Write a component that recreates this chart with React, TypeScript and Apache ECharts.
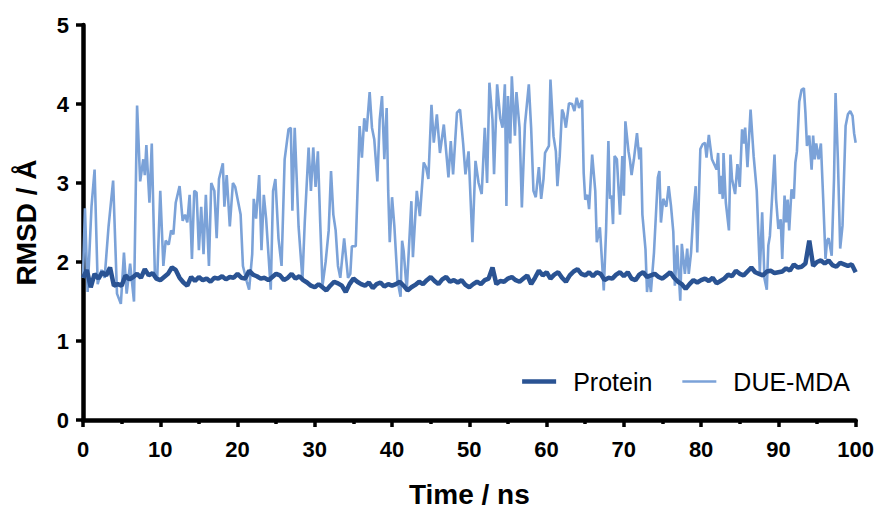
import React, { useEffect, useRef } from "react";
import * as echarts from "echarts";

// DUE-MDA RMSD (Å) — time (ns) / value pairs
const dueTime = [
  0.0, 0.25, 0.6, 1.1, 1.5, 1.9, 2.4, 2.8, 3.3, 3.9, 4.4, 4.9, 5.3, 5.65, 6.1, 6.6, 7.0, 7.4, 7.8, 8.0,
  8.2, 8.6, 8.9, 9.3, 9.6, 10.0, 10.4, 10.7, 11.1, 11.4, 11.7, 12.0, 12.5, 12.9, 13.2, 13.5, 13.8, 14.1, 14.4, 14.7,
  15.0, 15.3, 15.6, 15.9, 16.3, 16.6, 17.0, 17.3, 17.6, 18.1, 18.3, 18.6, 19.0, 19.4, 19.7, 20.0, 20.4, 20.7, 21.2, 21.5,
  21.9, 22.1, 22.4, 22.8, 23.1, 23.4, 23.7, 24.2, 24.3, 24.6, 24.9, 25.3, 25.7, 26.1, 26.6, 26.9, 27.1, 27.4, 27.9, 28.4,
  28.7, 29.2, 29.5, 29.8, 30.1, 30.4, 30.7, 31.0, 31.4, 31.8, 32.1, 32.4, 32.7, 33.0, 33.3, 33.8, 34.3, 34.6, 34.8, 35.3,
  35.8, 36.1, 36.4, 36.7, 37.1, 37.4, 37.7, 38.1, 38.4, 38.7, 39.0, 39.3, 39.5, 39.7, 40.0, 40.3, 40.7, 41.1, 41.3, 41.5,
  41.9, 42.5, 42.7, 43.2, 43.6, 44.1, 44.4, 44.7, 45.1, 45.4, 45.8, 46.2, 46.7, 47.3, 47.6, 47.9, 48.4, 48.8, 49.2, 49.5,
  49.9, 50.4, 50.8, 51.2, 51.6, 52.0, 52.3, 52.6, 53.0, 53.2, 53.6, 54.0, 54.3, 54.6, 54.8, 55.0, 55.3, 55.5, 55.9, 56.1,
  56.5, 56.8, 57.2, 57.7, 58.0, 58.3, 58.6, 59.0, 59.3, 59.6, 59.8, 60.3, 60.5, 60.9, 61.2, 61.4, 61.7, 62.0, 62.2, 62.5,
  62.9, 63.3, 63.6, 63.9, 64.2, 64.6, 64.8, 65.0, 65.3, 65.5, 65.9, 66.3, 66.5, 66.9, 67.4, 67.7, 68.0, 68.2, 68.4, 68.6,
  68.8, 69.1, 69.5, 69.8, 70.0, 70.2, 70.6, 70.8, 71.0, 71.3, 71.7, 72.0, 72.2, 72.4, 72.8, 73.0, 73.2, 73.5, 73.9, 74.4,
  74.6, 74.8, 75.1, 75.5, 75.8, 76.1, 76.4, 76.6, 76.9, 77.3, 77.5, 77.9, 78.2, 78.4, 78.7, 79.0, 79.3, 79.5, 79.9, 80.2,
  80.5, 80.7, 81.0, 81.4, 82.0, 82.2, 82.4, 82.6, 82.8, 82.9, 83.2, 83.6, 83.8, 84.0, 84.4, 84.7, 85.0, 85.3, 85.5, 85.7,
  86.0, 86.4, 86.8, 87.2, 87.6, 87.9, 88.2, 88.5, 88.7, 88.9, 89.5, 89.7, 90.0, 90.3, 90.5, 90.8, 91.0, 91.2, 91.4, 91.7,
  92.0, 92.2, 92.4, 92.7, 93.0, 93.3, 93.5, 93.7, 94.0, 94.3, 94.5, 94.7, 94.9, 95.2, 95.5, 95.8, 96.1, 96.3, 96.5, 96.9,
  97.2, 97.4, 97.7, 98.0, 98.3, 98.7, 99.0, 99.3, 99.6, 99.8, 100.0,
];
const dueRmsd = [
  1.80, 2.68, 1.62, 2.70, 3.17, 1.72, 1.90, 1.80, 2.44, 3.03, 1.60, 1.47, 2.12, 1.60, 1.98, 1.50, 3.98, 3.02, 3.30, 3.10,
  3.48, 2.75, 3.50, 1.85, 1.78, 2.90, 1.95, 2.27, 2.22, 2.40, 2.35, 2.75, 2.96, 2.52, 2.60, 2.50, 2.85, 2.04, 2.90, 2.88,
  2.15, 2.70, 2.10, 2.85, 1.95, 3.00, 2.90, 2.30, 3.05, 3.25, 2.70, 3.10, 2.45, 3.00, 2.95, 2.80, 2.60, 1.95, 1.75, 1.65,
  2.10, 2.80, 2.55, 3.10, 2.15, 2.85, 2.55, 1.80, 1.65, 2.90, 3.05, 2.30, 1.95, 3.30, 3.68, 3.70, 2.65, 3.70, 2.45, 1.78,
  2.50, 3.45, 2.90, 3.45, 2.95, 3.40, 2.50, 1.70, 2.00, 2.40, 3.15, 2.60, 2.40, 1.95, 1.80, 2.30, 1.80, 1.85, 2.20, 2.20,
  3.72, 3.32, 3.82, 3.65, 4.15, 3.70, 3.55, 3.02, 3.80, 4.10, 3.30, 3.95, 2.90, 2.25, 2.82, 2.45, 1.77, 1.56, 2.27, 2.14,
  1.64, 2.77, 2.06, 2.90, 2.58, 3.26, 3.20, 3.05, 3.99, 3.51, 3.87, 3.38, 3.74, 3.07, 3.53, 3.11, 3.89, 3.93, 3.50, 3.11,
  3.40, 2.25, 3.28, 3.00, 2.86, 3.70, 3.00, 4.27, 3.80, 3.11, 4.25, 3.82, 3.70, 4.25, 2.71, 4.10, 3.50, 4.35, 3.60, 4.15,
  3.70, 2.69, 3.74, 4.25, 3.70, 2.90, 2.82, 3.20, 2.80, 3.05, 3.38, 3.47, 4.31, 3.59, 3.40, 2.96, 3.34, 3.93, 3.88, 3.70,
  4.01, 4.00, 3.91, 4.08, 3.95, 4.05, 3.13, 2.79, 2.85, 2.67, 3.36, 2.90, 2.25, 2.44, 1.64, 2.40, 3.53, 2.80, 2.84, 2.48,
  3.34, 3.30, 2.60, 3.34, 2.84, 3.78, 3.40, 3.28, 3.10, 3.30, 3.63, 3.30, 3.45, 2.60, 2.16, 1.62, 1.85, 1.62, 2.12, 3.07,
  3.15, 2.50, 2.80, 2.70, 2.96, 2.71, 2.38, 1.70, 2.21, 1.51, 2.23, 1.85, 2.17, 1.85, 2.12, 2.63, 2.96, 2.12, 3.43, 3.49,
  3.51, 3.32, 3.61, 3.30, 3.17, 3.38, 2.86, 3.09, 2.80, 3.38, 2.75, 2.40, 3.36, 3.05, 2.86, 3.24, 2.95, 3.68, 3.50, 3.70,
  3.20, 3.93, 3.34, 2.90, 1.87, 2.63, 1.79, 1.65, 2.21, 2.33, 3.36, 2.80, 2.42, 2.54, 2.04, 2.84, 2.50, 2.79, 2.40, 2.92,
  2.80, 3.26, 3.40, 4.03, 4.18, 4.20, 3.89, 3.47, 3.60, 3.17, 3.60, 3.30, 3.50, 3.30, 3.50, 2.80, 2.04, 2.27, 2.30, 2.08,
  3.05, 4.14, 3.30, 2.17, 2.46, 3.72, 3.87, 3.91, 3.85, 3.63, 3.51,
];

// Protein RMSD (Å), one value every 0.5 ns from 0 to 100 ns
const proteinStep = 0.5;
const proteinRmsd = [
  1.80, 1.90, 1.68, 1.85, 1.79, 1.87, 1.83, 1.93, 1.70, 1.72, 1.70,
  1.83, 1.78, 1.81, 1.85, 1.80, 1.91, 1.83, 1.86, 1.79, 1.77,
  1.81, 1.85, 1.93, 1.90, 1.80, 1.74, 1.70, 1.81, 1.76, 1.81,
  1.77, 1.79, 1.75, 1.80, 1.79, 1.82, 1.78, 1.81, 1.80, 1.85,
  1.80, 1.79, 1.89, 1.84, 1.82, 1.79, 1.80, 1.77, 1.81, 1.85,
  1.83, 1.77, 1.80, 1.85, 1.79, 1.82, 1.77, 1.74, 1.70, 1.68,
  1.72, 1.68, 1.64, 1.70, 1.75, 1.73, 1.70, 1.62, 1.72, 1.79,
  1.75, 1.72, 1.70, 1.74, 1.67, 1.72, 1.74, 1.69, 1.72, 1.70,
  1.72, 1.75, 1.70, 1.64, 1.68, 1.71, 1.75, 1.72, 1.77, 1.81,
  1.76, 1.72, 1.78, 1.81, 1.75, 1.77, 1.74, 1.77, 1.71, 1.68,
  1.72, 1.75, 1.72, 1.77, 1.79, 1.93, 1.72, 1.76, 1.75, 1.79,
  1.81, 1.77, 1.75, 1.79, 1.83, 1.72, 1.80, 1.89, 1.83, 1.87,
  1.79, 1.84, 1.87, 1.80, 1.75, 1.83, 1.88, 1.91, 1.85, 1.83,
  1.87, 1.82, 1.87, 1.85, 1.77, 1.80, 1.79, 1.84, 1.87, 1.82,
  1.87, 1.79, 1.77, 1.84, 1.87, 1.81, 1.83, 1.85, 1.81, 1.79,
  1.83, 1.87, 1.80, 1.75, 1.72, 1.66, 1.72, 1.77, 1.74, 1.77,
  1.79, 1.76, 1.80, 1.73, 1.76, 1.79, 1.84, 1.82, 1.89, 1.85,
  1.83, 1.88, 1.93, 1.87, 1.85, 1.83, 1.88, 1.89, 1.86, 1.87,
  1.88, 1.92, 1.89, 1.97, 1.93, 1.94, 1.98, 2.27, 1.95, 2.00,
  2.02, 1.98, 2.02, 1.96, 1.94, 1.99, 1.97, 1.95, 1.97, 1.87,
];

const seriesNames = ["Protein", "DUE-MDA"];
const xTitle = "Time / ns";
const yTitle = "RMSD / Å";
const xMin = 0, xMax = 100, xStep = 10;
const yMin = 0, yMax = 5, yStep = 1;

const FONT = "'Liberation Sans', Arial, Helvetica, sans-serif";
const PROTEIN_COLOR = "#2a5393";
const DUE_COLOR = "#7ba2d8";

export default function App() {
  const ref = useRef<HTMLDivElement>(null);
  useEffect(() => {
    if (!ref.current) return;
    const chart = echarts.init(ref.current, null, { renderer: "svg" });
    const dueData = dueTime.map((t, i) => [t, dueRmsd[i]]);
    const protData = proteinRmsd.map((v, i) => [i * proteinStep, v]);
    chart.setOption({
      animation: false,
      backgroundColor: "#ffffff",
      grid: { left: 83, right: 21, top: 25, bottom: 91, containLabel: false },
      legend: {
        data: [
          { name: seriesNames[0], icon: "path://M0,0L68,0L68,9L0,9Z", itemStyle: { color: PROTEIN_COLOR } },
          { name: seriesNames[1], icon: "path://M0,0L68,0L68,5L0,5Z", itemStyle: { color: DUE_COLOR } },
        ],
        right: 22,
        top: 364,
        itemWidth: 34,
        itemHeight: 14,
        itemGap: 30,
        textStyle: { fontSize: 25, color: "#000", fontFamily: FONT, padding: [0, 0, 0, 12] },
      },
      xAxis: {
        type: "value",
        min: xMin,
        max: xMax,
        interval: xStep,
        name: xTitle,
        nameLocation: "middle",
        nameGap: 60,
        nameTextStyle: { fontSize: 28, fontWeight: "bold", color: "#000", fontFamily: FONT },
        axisLine: { show: true, onZero: false, lineStyle: { color: "#000", width: 4.5 } },
        axisTick: { show: true, length: 7, lineStyle: { color: "#000", width: 3.5 } },
        minorTick: { show: true, splitNumber: 2, length: 4, lineStyle: { color: "#000", width: 3.5 } },
        splitLine: { show: false },
        minorSplitLine: { show: false },
        axisLabel: { fontSize: 22, fontWeight: "bold", color: "#000", fontFamily: FONT, margin: 18 },
      },
      yAxis: {
        type: "value",
        min: yMin,
        max: yMax,
        interval: yStep,
        name: yTitle,
        nameLocation: "middle",
        nameGap: 43,
        nameRotate: 90,
        nameTextStyle: { fontSize: 28, fontWeight: "bold", color: "#000", fontFamily: FONT },
        axisLine: { show: true, onZero: false, lineStyle: { color: "#000", width: 4.5 } },
        axisTick: { show: true, length: 7, lineStyle: { color: "#000", width: 3.5 } },
        splitLine: { show: false },
        axisLabel: { fontSize: 22, fontWeight: "bold", color: "#000", fontFamily: FONT, margin: 14 },
      },
      series: [
        {
          name: seriesNames[1],
          type: "line",
          data: dueData,
          symbol: "none",
          smooth: false,
          lineStyle: { color: DUE_COLOR, width: 2.6 },
          itemStyle: { color: DUE_COLOR },
          z: 2,
        },
        {
          name: seriesNames[0],
          type: "line",
          data: protData,
          symbol: "none",
          smooth: false,
          lineStyle: { color: PROTEIN_COLOR, width: 4.5 },
          itemStyle: { color: PROTEIN_COLOR },
          z: 3,
        },
      ],
    });
    return () => chart.dispose();
  }, []);
  return (
    <div
      ref={ref}
      style={{ position: "fixed", left: 0, top: 0, width: 877, height: 513, background: "#fff" }}
    />
  );
}
